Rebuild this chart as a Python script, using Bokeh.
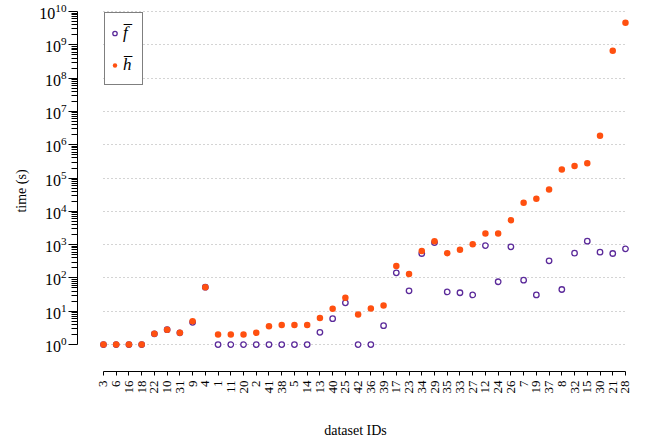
import math
from bokeh.plotting import figure
from bokeh.models import Range1d, FixedTicker, Legend, LegendItem, ColumnDataSource
from bokeh.embed import file_html
from bokeh.resources import INLINE

# ---- data ----
dataset_ids = [3, 6, 16, 18, 22, 10, 31, 9, 4, 1, 11, 20, 2, 41, 38, 5, 14, 13, 40, 25, 42,
               36, 39, 17, 23, 34, 29, 35, 33, 27, 12, 24, 26, 7, 19, 37, 8, 32, 15, 30, 21, 28]
f_bar = [1, 1, 1, 1, 2.1, 2.8, 2.25, 4.65, 53, 1, 1, 1, 1, 1, 1, 1, 1, 2.33, 6.0, 18, 1,
         1, 3.7, 143, 41, 542, 1155, 38, 36, 31, 940, 77, 860, 86, 31, 327, 45, 557, 1270, 596, 542, 749]
h_bar = [1, 1, 1, 1, 2.1, 2.8, 2.25, 5.0, 53, 2.0, 2.0, 2.0, 2.25, 3.55, 3.9, 3.9, 3.9, 6.3, 11.9, 25.5, 8.0,
         12.1, 15, 227, 131, 640, 1270, 556, 699, 1035, 2150, 2150, 5400, 18000, 24000, 45000, 180000,
         230000, 280000, 1.85e6, 6.6e8, 4.6e9]
decade_ticks = [10 ** k for k in range(11)]
minor_ticks = [m * 10 ** k for k in range(10) for m in range(2, 10)]

PURPLE = "#5b2a9a"
ORANGE = "#ff5010"
FONT = "Liberation Serif, serif"

xs = list(range(len(dataset_ids)))
src = ColumnDataSource(dict(x=xs, f=f_bar, h=h_bar))

p = figure(width=646, height=440, output_backend="svg", toolbar_location=None,
           x_range=Range1d(-2.04, 41.63), y_range=Range1d(10 ** -0.808, 10 ** 10.03),
           y_axis_type="log",
           min_border_left=77, min_border_right=13, min_border_top=10, min_border_bottom=68,
           x_axis_label="dataset IDs", y_axis_label="time (s)")
p.outline_line_color = None
p.background_fill_color = "white"
p.border_fill_color = "white"

# grid
p.xgrid.visible = False
p.ygrid.ticker = FixedTicker(ticks=decade_ticks)
p.ygrid.cross_bounds = (0, len(dataset_ids) - 1)
p.ygrid.grid_line_color = "#a8a8a8"
p.ygrid.grid_line_dash = "1 3"
p.ygrid.grid_line_width = 1

# y axis
ya = p.yaxis[0]
ya.ticker = FixedTicker(ticks=decade_ticks, minor_ticks=minor_ticks)
ya.bounds = (1, 1e10)
ya.major_tick_out = 9
ya.major_tick_in = 0
ya.minor_tick_out = 6
ya.minor_tick_in = 0
ya.major_label_standoff = 2
ya.major_label_text_font = FONT
ya.major_label_text_font_size = "16px"
ya.major_label_text_color = "black"
ya.axis_label_text_font = FONT
ya.axis_label_text_font_size = "14px"
ya.axis_label_text_font_style = "normal"
ya.axis_label_text_color = "black"
ya.axis_label_standoff = 7
ya.axis_line_color = "black"
ya.major_tick_line_color = "black"
ya.minor_tick_line_color = "black"

# x axis
xa = p.xaxis[0]
xa.ticker = FixedTicker(ticks=xs)
xa.major_label_overrides = {i: str(d) for i, d in zip(xs, dataset_ids)}
xa.bounds = (0, len(dataset_ids) - 1)
xa.major_label_orientation = math.pi / 2
xa.major_tick_out = 4
xa.major_tick_in = 0
xa.minor_tick_out = 0
xa.minor_tick_in = 0
xa.major_label_standoff = 5
xa.major_label_text_font = FONT
xa.major_label_text_font_size = "13px"
xa.major_label_text_color = "black"
xa.axis_label_text_font = FONT
xa.axis_label_text_font_size = "14px"
xa.axis_label_text_font_style = "normal"
xa.axis_label_text_color = "black"
xa.axis_label_standoff = 26
xa.axis_line_color = "black"

r_f = p.scatter("x", "f", source=src, marker="circle", size=5.5, fill_color="white",
                line_color=PURPLE, line_width=1.3)
r_h = p.scatter("x", "h", source=src, marker="circle", size=6.5, fill_color=ORANGE,
                line_color=None)

legend = Legend(items=[LegendItem(label="f\u0305", renderers=[r_f]),
                       LegendItem(label="h\u0305", renderers=[r_h])],
                location=(27, 286), orientation="vertical",
                padding=4, margin=0, spacing=1,
                glyph_width=11, glyph_height=20, label_height=31, label_width=15,
                label_standoff=3,
                label_text_font=FONT, label_text_font_style="italic",
                label_text_font_size="17px", label_text_color="black",
                border_line_color="black", border_line_width=1,
                background_fill_color="white", background_fill_alpha=1)
p.add_layout(legend)

open("out.html", "w").write(file_html(p, INLINE))
